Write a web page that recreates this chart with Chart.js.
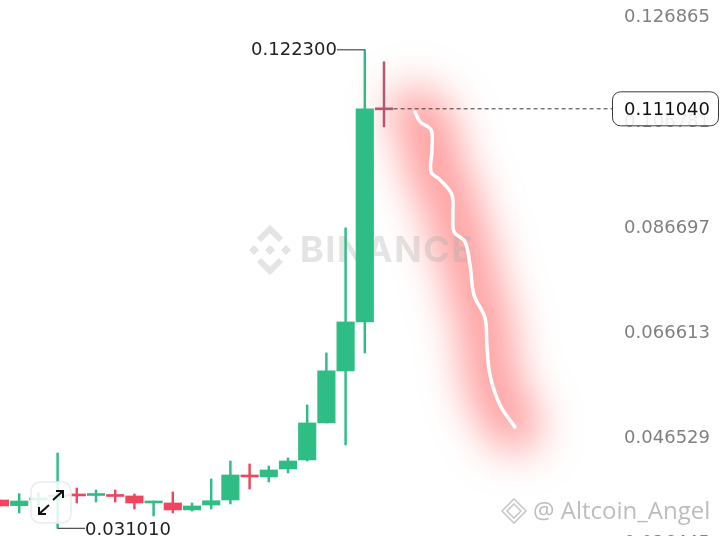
<!DOCTYPE html>
<html><head><meta charset="utf-8">
<script src="https://cdn.jsdelivr.net/npm/chart.js@4"></script>
<style>html,body{margin:0;padding:0;background:#fff;overflow:hidden}#w{width:720px;height:536px}</style>
</head><body><div id="w"><canvas id="c" width="720" height="536"></canvas></div>
<script>
const positions=[0,1,2,3,4,5,6,7,8,9,10,11,12,13,14,15,16,17,18,19,20];
const opens =[.03642,.03534,.03642,.03699,.03748,.03728,.03738,.03719,.03585,.03585,.03452,.03547,.03642,.04119,.04081,.04234,.04406,.05112,.06104,.07039,.11120];
const closes=[.03528,.03623,.03680,.03730,.03719,.03757,.03709,.03585,.03623,.03452,.03528,.03628,.04119,.04081,.04215,.04386,.05112,.06104,.07039,.11104,.11085];
const highs =[.03642,.03763,.03776,.04539,.03871,.03833,.03833,.03757,.03623,.03795,.03585,.04043,.04386,.04329,.04291,.04444,.05455,.06448,.08833,.12230,.12001];
const lows  =[.03528,.03394,.03509,.03101,.03585,.03604,.03604,.03471,.03337,.03394,.03433,.03471,.03566,.03852,.03986,.04157,.04386,.05112,.04692,.06448,.10760];
const tickValues=[0.126865,0.106781,0.086697,0.066613,0.046529,0.026445];
const lastPrice=0.111040, highPrice=0.122300, lowPrice=0.031010;
const drawX=[21.61,21.88,22.45,22.50,22.45,22.92,23.54,23.59,23.65,24.22,24.48,24.69,25.26,25.36,25.52,26.04,26.82];
const drawY=[.11047,.10856,.10703,.10322,.09902,.09749,.09463,.09081,.08757,.08566,.08127,.07554,.07115,.06600,.06028,.05455,.05035];

const GREEN='#2EBD85',RED='#F0455F',MAUVE='#B4566F';
const colour=i=>i===20?MAUVE:(closes[i]>=opens[i]?GREEN:RED);
const FONT='"DejaVu Sans", sans-serif';

const decor={
  id:'decor',
  beforeDatasetsDraw(ch){
    const {ctx}=ch, xs=ch.scales.x, ys=ch.scales.y;
    ctx.save();
    ctx.filter='blur(22px)';
    ctx.strokeStyle='rgba(255,85,85,0.64)';
    ctx.lineWidth=48;ctx.lineCap='round';ctx.lineJoin='round';
    ctx.beginPath();
    drawX.forEach((x,i)=>{const px=xs.getPixelForValue(x),py=ys.getPixelForValue(drawY[i]);i?ctx.lineTo(px,py):ctx.moveTo(px,py);});
    ctx.stroke();
    ctx.filter='none';
    // exchange watermark
    ctx.fillStyle='rgba(170,170,170,0.32)';
    ctx.font='bold 36px Inter, "DejaVu Sans", sans-serif';
    ctx.textAlign='left';ctx.textBaseline='middle';
    ctx.letterSpacing='1.5px';
    ctx.fillText('BINANCE',300,251);
    ctx.letterSpacing='0px';
    const d=(x,y,r)=>{ctx.beginPath();ctx.moveTo(x,y-r);ctx.lineTo(x+r,y);ctx.lineTo(x,y+r);ctx.lineTo(x-r,y);ctx.closePath();ctx.fill();};
    const cx=270,cy=250;
    d(cx,cy,5);d(cx-16,cy,5);d(cx+16,cy,5);
    ctx.lineWidth=6;ctx.strokeStyle='rgba(170,170,170,0.32)';ctx.lineCap='butt';ctx.lineJoin='miter';
    ctx.beginPath();ctx.moveTo(cx-11,cy-10);ctx.lineTo(cx,cy-21);ctx.lineTo(cx+11,cy-10);ctx.stroke();
    ctx.beginPath();ctx.moveTo(cx-11,cy+10);ctx.lineTo(cx,cy+21);ctx.lineTo(cx+11,cy+10);ctx.stroke();
    ctx.restore();
  },
  afterDraw(ch){
    const {ctx}=ch, xs=ch.scales.x, ys=ch.scales.y;
    ctx.save();
    ctx.textBaseline='middle';
    // high / low labels
    ctx.fillStyle='#222';ctx.font='18px '+FONT;ctx.textAlign='right';
    ctx.fillText(highPrice.toFixed(6),xs.getPixelForValue(17.55),ys.getPixelForValue(highPrice)+1);
    ctx.textAlign='left';
    ctx.fillText(lowPrice.toFixed(6),xs.getPixelForValue(4.43),ys.getPixelForValue(lowPrice)+2);
    // last price box
    const by=ys.getPixelForValue(lastPrice);
    ctx.beginPath();ctx.roundRect(612.5,by-17,106,34,8);
    ctx.fillStyle='rgba(255,255,255,0.86)';ctx.fill();
    ctx.strokeStyle='#3a3a3a';ctx.lineWidth=1;ctx.stroke();
    ctx.fillStyle='#111';ctx.textAlign='right';
    ctx.fillText(lastPrice.toFixed(6),710,by+2);
    // expand button
    ctx.beginPath();ctx.roundRect(31,482,40,41,9);
    ctx.fillStyle='rgba(255,255,255,0.85)';ctx.fill();
    ctx.strokeStyle='#ececec';ctx.lineWidth=1.5;ctx.stroke();
    ctx.strokeStyle='#111';ctx.lineWidth=2;ctx.lineCap='butt';
    const arrow=(x1,y1,x2,y2,s1,s2)=>{ctx.beginPath();ctx.moveTo(x1,y1);ctx.lineTo(x2,y2);ctx.moveTo(x2+s1*7,y2);ctx.lineTo(x2,y2);ctx.lineTo(x2,y2+s2*7);ctx.stroke();};
    arrow(53,500,63,491,-1,1);
    arrow(49,505,39,514,1,-1);
    // author watermark
    ctx.fillStyle='#bdbdbd';ctx.font='24px "Open Sans", sans-serif';ctx.textAlign='left';
    ctx.fillText('@ Altcoin_Angel',533,512);
    ctx.strokeStyle='#c9c9c9';ctx.lineWidth=1.6;
    [[514,511,12],[514,511,7]].forEach(([x,y,r])=>{ctx.beginPath();ctx.moveTo(x,y-r);ctx.lineTo(x+r,y);ctx.lineTo(x,y+r);ctx.lineTo(x-r,y);ctx.closePath();ctx.stroke();});
    ctx.restore();
  }
};

new Chart(document.getElementById('c'),{
  type:'bar',
  plugins:[decor],
  data:{datasets:[
    {type:'line',order:1,data:drawX.map((x,i)=>({x,y:drawY[i]})),borderColor:'#fff',borderWidth:3.5,pointRadius:0,tension:.35,borderCapStyle:'round'},
    {type:'line',order:2,data:[{x:20.5,y:lastPrice},{x:31.9,y:lastPrice}],borderColor:'#3a3a3a',borderWidth:1,borderDash:[4,3],pointRadius:0},
    {type:'line',order:2,data:[{x:17.55,y:highPrice},{x:19,y:highPrice}],borderColor:'#4a4a4a',borderWidth:1.2,pointRadius:0},
    {type:'line',order:2,data:[{x:3,y:lowPrice},{x:4.43,y:lowPrice}],borderColor:'#4a4a4a',borderWidth:1.2,pointRadius:0},
    {order:3,grouped:false,barThickness:17.5,data:positions.map(i=>({x:i,y:[opens[i],closes[i]]})),backgroundColor:positions.map(colour),borderSkipped:false,borderWidth:0,minBarLength:2},
    {order:4,grouped:false,barThickness:1.8,data:positions.map(i=>({x:i,y:[lows[i],highs[i]]})),backgroundColor:positions.map(colour),borderWidth:0}
  ]},
  options:{
    responsive:false,animation:false,
    layout:{padding:0},
    plugins:{legend:{display:false},tooltip:{enabled:false},title:{display:false}},
    scales:{
      x:{type:'linear',display:false,min:0,max:37.5,offset:false,bounds:'data',grid:{display:false}},
      y:{position:'right',min:0.02955,max:0.1318,bounds:'data',
        grid:{display:false,drawTicks:false},border:{display:false},
        afterBuildTicks(a){a.ticks=tickValues.map(value=>({value}));},
        afterFit(a){a.width=0;a.paddingTop=0;a.paddingBottom=0;a.paddingLeft=0;a.paddingRight=0;},
        ticks:{mirror:true,padding:-10,labelOffset:-8.5,color:'#808080',autoSkip:false,font:{family:'"DejaVu Sans", sans-serif',size:18},callback:v=>v.toFixed(6)}
      }
    }
  }
});
</script></body></html>
